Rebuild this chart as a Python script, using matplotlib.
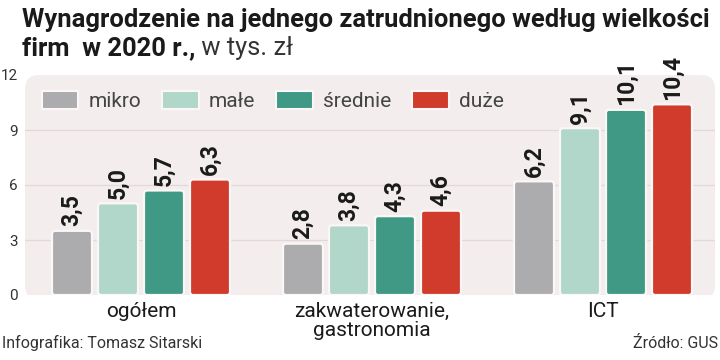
import matplotlib
matplotlib.use("Agg")
import matplotlib.pyplot as plt
import numpy as np
from matplotlib.patches import FancyBboxPatch

FONT = ["Roboto", "DejaVu Sans"]

categories = ["ogółem", "zakwaterowanie,\ngastronomia", "ICT"]
sizes = ["mikro", "małe", "średnie", "duże"]
values = {
    "mikro": [3.5, 2.8, 6.2],
    "małe": [5.0, 3.8, 9.1],
    "średnie": [5.7, 4.3, 10.1],
    "duże": [6.3, 4.6, 10.4],
}
y_ticks = [0, 3, 6, 9, 12]
colors = ["#acacaf", "#b0d7c9", "#3f9985", "#d03b2b"]

title_bold_1 = "Wynagrodzenie na jednego zatrudnionego według wielkości"
title_bold_2 = "firm  w 2020 r.,"
title_regular = " w tys. zł"
credit = "Infografika: Tomasz Sitarski"
source = "Źródło: GUS"

fig = plt.figure(figsize=(7.2, 3.6), dpi=100)
ax = fig.add_axes([25 / 720, 65 / 360, 690 / 720, 220 / 360])
ax.set_facecolor("none")

# rounded background panel
panel = FancyBboxPatch(
    (0, -0.02), 1, 1.02,
    boxstyle="round,pad=0,rounding_size=0.02",
    mutation_aspect=690 / 220,
    transform=ax.transAxes,
    facecolor="#f3eded", edgecolor="none", zorder=0,
)
ax.add_patch(panel)

x = np.arange(len(categories))
step = 46 / 231
width = 40 / 231
px_x = 1 / 231
px_y = 12 / 220

for i, size in enumerate(sizes):
    bars = ax.bar(x + (i - 1.5) * step, values[size], width, color=colors[i])
    for rect, v in zip(bars, values[size]):
        rect.set_visible(False)
        rb = FancyBboxPatch(
            (rect.get_x(), rect.get_y()), rect.get_width(), rect.get_height(),
            boxstyle="round,pad=0,rounding_size=%f" % (3 * px_x),
            mutation_aspect=px_y / px_x,
            facecolor=rect.get_facecolor(), edgecolor="#fbf7f7",
            linewidth=1.6, zorder=3,
        )
        ax.add_patch(rb)
        ax.text(
            rect.get_x() + rect.get_width() / 2, v + 0.25,
            ("%.1f" % v).replace(".", ","),
            rotation=90, ha="center", va="bottom",
            fontsize=16.5, fontweight="bold", family=FONT, color="#1a1a1a",
            zorder=4,
        )

ax.set_xlim(-116 / 231, -116 / 231 + 690 / 231)
ax.set_ylim(0, 12)
ax.set_yticks(y_ticks)
ax.set_yticklabels([str(t) for t in y_ticks], family=FONT, fontsize=11, color="#333333")
ax.tick_params(axis="y", length=0, pad=5)
ax.tick_params(axis="x", length=0, pad=5)
ax.set_xticks(x)
ax.set_xticklabels(categories, family=FONT, fontsize=15, color="#1a1a1a", linespacing=1.0)
for t in [3, 6, 9]:
    ax.axhline(t, color="#e2d8d8", linewidth=0.9, zorder=1)
for s in ax.spines.values():
    s.set_visible(False)

handles = [
    plt.Rectangle((0, 0), 1, 1, facecolor=c, edgecolor="#fbf7f7", linewidth=1.5)
    for c in colors
]
ax.legend(
    handles, sizes, ncol=4, frameon=False, loc="center left",
    bbox_to_anchor=(-2 / 690, 1 - 26 / 220),
    prop={"family": FONT, "size": 15},
    labelcolor="#444444",
    handlelength=1.75, handleheight=1.0, handletextpad=0.5, columnspacing=1.0,
)

t1 = fig.text(22 / 720, 1 - 20 / 360, title_bold_1, family=FONT, fontweight="bold",
              fontsize=16.5, color="#1a1a1a", va="center")
fig.canvas.draw()
# shrink the title so that it spans the width of the reference (683 px)
fs = 16.5 * 683 / t1.get_window_extent().width
t1.set_fontsize(fs)
t2 = fig.text(22 / 720, 1 - 48 / 360, title_bold_2, family=FONT, fontweight="bold",
              fontsize=fs, color="#1a1a1a", va="center")
fig.canvas.draw()
bb = t2.get_window_extent()
fig.text(bb.x1 / 720, 1 - 48 / 360, title_regular, family=FONT,
         fontsize=fs, color="#333333", va="center")

fig.text(2 / 720, 1 - 343 / 360, credit, family=FONT, fontsize=11.5,
         color="#333333", va="center")
fig.text(718 / 720, 1 - 343 / 360, source, family=FONT, fontsize=11.5,
         color="#333333", va="center", ha="right")

fig.savefig("out.png", dpi=100, facecolor="white")
